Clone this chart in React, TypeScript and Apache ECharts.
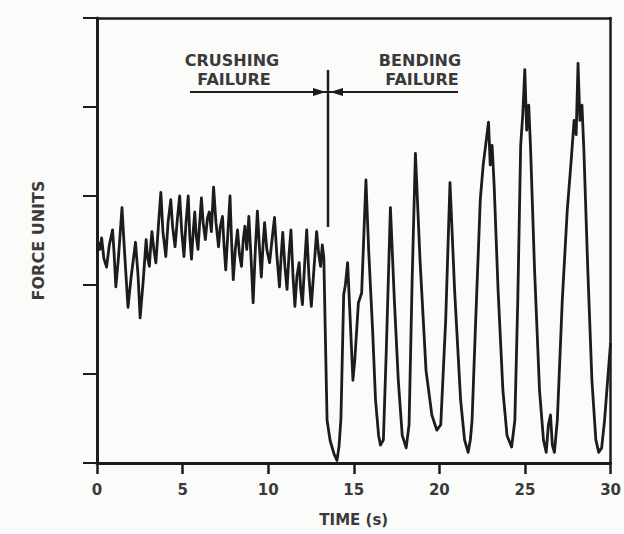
import React, { useEffect, useRef } from "react";
import * as echarts from "echarts";

// Time (s) of each reading
const timeS: number[] = [
  0.06, 0.17, 0.27, 0.40, 0.56, 0.72, 0.91, 1.00, 1.10, 1.25, 1.46, 1.60, 1.81, 2.00, 2.25, 2.40, 2.52, 2.70,
  2.87, 2.96, 3.06, 3.14, 3.21, 3.32, 3.44, 3.60, 3.73, 3.85, 4.02, 4.15, 4.31, 4.42, 4.56, 4.70, 4.83, 4.95,
  5.08, 5.20, 5.33, 5.42, 5.52, 5.62, 5.71, 5.80, 5.90, 6.00, 6.10, 6.20, 6.33, 6.45, 6.56, 6.68, 6.81, 6.95,
  7.10, 7.20, 7.33, 7.42, 7.52, 7.65, 7.77, 7.86, 7.96, 8.08, 8.21, 8.32, 8.44, 8.54, 8.64, 8.75, 8.87, 9.00,
  9.12, 9.25, 9.37, 9.48, 9.60, 9.70, 9.79, 9.92, 10.08, 10.22, 10.37, 10.50, 10.66, 10.75, 10.85, 10.98,
  11.10, 11.22, 11.33, 11.45, 11.56, 11.68, 11.81, 11.90, 12.00, 12.12, 12.25, 12.38, 12.52, 12.68, 12.83,
  12.95, 13.06, 13.16, 13.25,
  13.33, 13.44, 13.62, 13.85, 14.02, 14.14, 14.25, 14.41, 14.51, 14.64, 14.74, 14.95, 15.06, 15.27, 15.46, 15.71,
  15.87, 16.10, 16.27, 16.45, 16.56, 16.73, 16.90, 17.14, 17.37, 17.60, 17.83, 18.06, 18.23, 18.41, 18.60, 18.87,
  19.22, 19.56, 19.85, 20.08, 20.37, 20.62, 20.89, 21.24, 21.47, 21.68, 21.81, 21.91, 22.10, 22.39, 22.56, 22.67,
  22.87, 22.97, 23.08, 23.20, 23.43, 23.71, 23.95, 24.22, 24.41, 24.58, 24.75, 24.87, 24.99, 25.10, 25.22, 25.33,
  25.56, 25.85, 26.08, 26.24, 26.37, 26.49, 26.60, 26.72, 26.89, 27.18, 27.47, 27.70, 27.87, 27.99, 28.10, 28.21,
  28.33, 28.44, 28.67, 28.91, 29.14, 29.31, 29.48, 29.65, 29.83, 30.0,
];

// Force (arbitrary units) at each reading
const force: number[] = [
  2.48, 2.40, 2.53, 2.30, 2.20, 2.45, 2.62, 2.35, 1.98, 2.30, 2.87, 2.40, 1.75, 2.10, 2.48, 2.10, 1.63, 2.05,
  2.51, 2.30, 2.21, 2.45, 2.60, 2.40, 2.25, 2.70, 3.04, 2.60, 2.32, 2.70, 2.96, 2.65, 2.43, 2.75, 3.00, 2.60,
  2.32, 2.70, 3.00, 2.55, 2.29, 2.60, 2.82, 2.55, 2.40, 2.70, 2.98, 2.70, 2.51, 2.75, 2.82, 2.60, 3.10, 2.70,
  2.43, 2.65, 2.77, 2.45, 2.17, 2.60, 3.00, 2.50, 2.06, 2.40, 2.62, 2.35, 2.21, 2.50, 2.66, 2.40, 2.77, 2.30,
  1.80, 2.40, 2.83, 2.45, 2.09, 2.45, 2.70, 2.40, 2.25, 2.50, 2.76, 2.35, 1.98, 2.30, 2.59, 2.20,
  1.95, 2.35, 2.62, 2.10, 1.76, 2.10, 2.25, 1.95, 1.78, 2.20, 2.62, 2.10, 1.76, 2.20, 2.60,
  2.35, 2.21, 2.45, 2.31,
  1.52, 0.48, 0.25, 0.10, 0.03, 0.19, 0.50, 1.89, 2.00, 2.25, 1.83, 0.93, 1.16, 1.80, 1.91, 3.18,
  2.39, 1.49, 0.71, 0.31, 0.20, 0.26, 1.27, 2.87, 1.83, 0.93, 0.31, 0.17, 0.43, 2.06, 3.48, 2.28,
  1.04, 0.54, 0.37, 0.43, 1.61, 3.15, 1.94, 0.71, 0.26, 0.12, 0.26, 0.48, 1.49, 2.96, 3.35, 3.52,
  3.83, 3.35, 3.57, 3.12, 1.94, 0.82, 0.31, 0.18, 0.48, 1.83, 3.57, 3.91, 4.42, 3.74, 4.02, 3.52,
  2.17, 0.82, 0.26, 0.12, 0.43, 0.54, 0.20, 0.12, 0.48, 1.83, 2.84, 3.40, 3.85, 3.69, 4.49, 3.85,
  4.02, 3.52, 2.17, 0.93, 0.26, 0.12, 0.17, 0.48, 0.93, 1.35,
];

const xTicks: number[] = [0, 5, 10, 15, 20, 25, 30];

const INK = "#1c1c1c";
const TEXT = "#3a3a3a";
const FONT = "DejaVu Sans";

export default function App() {
  const ref = useRef<HTMLDivElement>(null);
  useEffect(() => {
    if (!ref.current) return;
    const chart = echarts.init(ref.current, undefined, { renderer: "svg" });
    const data = timeS.map((t, i) => [t, force[i]]);
    const label = (text: string, x: number, y: number) => ({
      type: "text",
      x,
      y,
      style: { text, align: "center", verticalAlign: "middle", font: `bold 16px "${FONT}"`, fill: TEXT },
    });
    chart.setOption({
      animation: false,
      backgroundColor: "#fbfbfa",
      grid: { left: 97, right: 8, top: 18, bottom: 71, containLabel: false },
      xAxis: [
        {
          type: "value",
          min: xTicks[0],
          max: xTicks[xTicks.length - 1],
          interval: 5,
          name: "TIME (s)",
          nameLocation: "middle",
          nameGap: 49,
          nameTextStyle: { fontFamily: FONT, fontSize: 15, fontWeight: "bold", color: TEXT },
          axisLine: { show: true, onZero: false, lineStyle: { color: INK, width: 3 } },
          axisTick: { show: true, length: 11, lineStyle: { color: INK, width: 2.5 } },
          axisLabel: { fontFamily: FONT, fontSize: 15, fontWeight: "bold", color: TEXT, margin: 19 },
          splitLine: { show: false },
        },
        {
          type: "value",
          position: "top",
          min: 0,
          max: 30,
          interval: 5,
          axisLine: { show: true, onZero: false, lineStyle: { color: INK, width: 2.5 } },
          axisTick: { show: false },
          axisLabel: { show: false },
          splitLine: { show: false },
        },
      ],
      yAxis: [
        {
          type: "value",
          min: 0,
          max: 5,
          interval: 1,
          name: "FORCE UNITS",
          nameLocation: "middle",
          nameGap: 51,
          nameTextStyle: { fontFamily: FONT, fontSize: 16, fontWeight: "bold", color: TEXT },
          axisLine: { show: true, onZero: false, lineStyle: { color: INK, width: 3 } },
          axisTick: { show: true, length: 14, lineStyle: { color: INK, width: 2 } },
          axisLabel: { show: false },
          splitLine: { show: false },
        },
        {
          type: "value",
          position: "right",
          min: 0,
          max: 5,
          interval: 1,
          axisLine: { show: true, onZero: false, lineStyle: { color: INK, width: 2.5 } },
          axisTick: { show: false },
          axisLabel: { show: false },
          splitLine: { show: false },
        },
      ],
      series: [
        {
          type: "line",
          data,
          showSymbol: false,
          symbol: "none",
          smooth: false,
          lineStyle: { color: INK, width: 2.8, join: "round" },
          z: 3,
        },
      ],
      graphic: [
        label("CRUSHING", 232, 60),
        label("FAILURE", 234, 79),
        label("BENDING", 420, 60),
        label("FAILURE", 422, 79),
        { type: "line", shape: { x1: 190, y1: 92, x2: 458, y2: 92 }, style: { stroke: INK, lineWidth: 2 } },
        { type: "line", shape: { x1: 328, y1: 70, x2: 328, y2: 227 }, style: { stroke: INK, lineWidth: 2.5 } },
        { type: "polygon", shape: { points: [[313, 88], [313, 96], [326, 92]] }, style: { fill: INK } },
        { type: "polygon", shape: { points: [[343, 88], [343, 96], [330, 92]] }, style: { fill: INK } },
      ],
    });
    return () => chart.dispose();
  }, []);
  return (
    <div
      ref={ref}
      style={{ position: "fixed", left: 0, top: 0, width: 624, height: 534 }}
    />
  );
}
